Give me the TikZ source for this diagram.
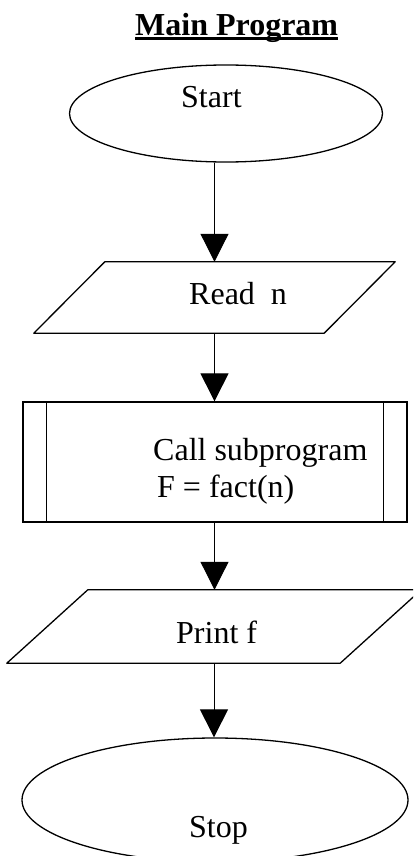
\documentclass[tikz,border=0pt]{standalone}
\usepackage{fontspec}
\setmainfont{Liberation Serif}
\usetikzlibrary{shapes.geometric,arrows.meta}
\begin{document}
\begin{tikzpicture}[x=1pt,y=-1pt,
  shapebox/.style={draw,line width=1.3pt,inner sep=0pt},
  ghost/.style={inner sep=0pt,rectangle},
  txt/.style={inner sep=0pt,anchor=base west,font=\fontsize{32}{38}\selectfont},
  arr/.style={line width=1pt,-{Triangle[width=28pt,length=28pt]}}]
\useasboundingbox (0,0) rectangle (413,856);
\clip (0,0) rectangle (413,856);
% title
\node[txt,font=\fontsize{32}{38}\selectfont\bfseries] (title) at (135,36) {Main Program};
\draw[line width=3pt] ([yshift=-2.5pt]title.base west) -- ([yshift=-2.5pt]title.base east);
% shapes
\node[shapebox,ellipse,minimum width=313pt,minimum height=97pt] (start) at (226,113.5) {};
% Read n parallelogram (ghost node holds the anchors)
\node[ghost,minimum width=290pt,minimum height=71pt] (readn) at (214.5,297.5) {};
\draw[line width=1.3pt,line join=round]
  ([xshift=35.5pt]readn.north west) -- ([xshift=35.5pt]readn.north east)
  -- ([xshift=-35.5pt]readn.south east) -- ([xshift=-35.5pt]readn.south west) -- cycle;
\node[shapebox,rectangle,minimum width=384pt,minimum height=120pt] (call) at (215,462) {};
\draw[line width=1.3pt] ([xshift=24pt]call.north west) -- ([xshift=24pt]call.south west);
\draw[line width=1.3pt] ([xshift=-24pt]call.north east) -- ([xshift=-24pt]call.south east);
% Print f parallelogram
\node[ghost,minimum width=333pt,minimum height=73pt] (printf) at (214,626.5) {};
\draw[line width=1.3pt,line join=round]
  ([xshift=40.5pt]printf.north west) -- ([xshift=40.5pt]printf.north east)
  -- ([xshift=-40.5pt]printf.south east) -- ([xshift=-40.5pt]printf.south west) -- cycle;
\node[shapebox,ellipse,minimum width=386pt,minimum height=124pt] (stop) at (215,800) {};
% texts
\node[txt] (tstart) at (181,107) {Start};
\node[txt] (treadn) at (189,304) {Read\ \ n};
\node[txt] (tcall1) at (153,460) {Call subprogram};
\node[txt] (tcall2) at (157,497) {F = fact(n)};
\node[txt] (tprint) at (176,643) {Print f};
\node[txt] (tstop) at (189,837) {Stop};
% connectors
\draw[arr] (readn.north |- start.south) -- (readn.north);
\draw[arr] (readn.south) -- (readn.south |- call.north);
\draw[arr] (call.south -| readn.south) -- (readn.south |- printf.north);
\draw[arr] (printf.south) -- (printf.south |- stop.north);
\end{tikzpicture}
\end{document}
